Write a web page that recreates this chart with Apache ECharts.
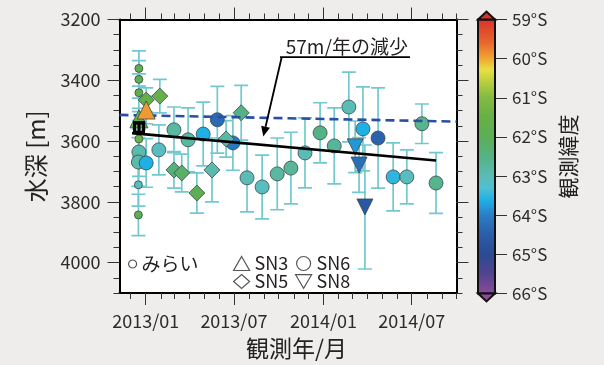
<!DOCTYPE html>
<html><head><meta charset="utf-8">
<script src="https://cdn.jsdelivr.net/npm/echarts@6/dist/echarts.min.js"></script>
<style>html,body{margin:0;padding:0;background:#eeedeb;}#c{width:604px;height:365px;}</style>
</head><body><div id="c"></div>
<script>
const FONT = '"Noto Sans CJK JP","Noto Sans",sans-serif';
// rows: [days since 2013-01-01, depth (m), error (±m), latitude (°S)]
const miraiPts = [
  [-14, 3361, 58, 61.9], [-14, 3397, 62, 61.9], [-14, 3441, 62, 61.8],
  [-14, 3593, 60, 61.4], [-15, 3744, 70, 63.1], [-15, 3843, 68, 62.0]
];
const sn3Pts = [[-14, 3527, 35, 61.8], [1, 3498, 45, 59.95]];
const sn5Pts = [
  [1, 3465, 40, 61.7], [29, 3452, 55, 61.6], [58, 3695, 60, 62.4], [74, 3705, 62, 62.2],
  [105, 3771, 66, 61.9], [136, 3695, 105, 62.9], [165, 3593, 60, 62.8], [196, 3507, 90, 62.5]
];
const sn6Pts = [
  [-14, 3636, 80, 62.9], [-15, 3669, 80, 62.9], [1, 3672, 80, 63.6], [27, 3629, 82, 63.1],
  [58, 3563, 75, 62.8], [87, 3596, 105, 62.8], [118, 3577, 105, 63.6], [147, 3530, 110, 64.3],
  [179, 3606, 90, 64.1], [208, 3721, 112, 63.0], [239, 3751, 105, 63.1], [270, 3708, 118, 62.8],
  [298, 3689, 118, 62.7], [327, 3639, 115, 63.0], [358, 3573, 99, 62.5], [387, 3616, 125, 62.7],
  [417, 3488, 115, 63.0], [446, 3560, 138, 63.6], [477, 3590, 165, 64.4], [508, 3718, 112, 63.5],
  [536, 3718, 89, 63.1], [567, 3543, 65, 62.6], [596, 3738, 100, 62.6]
];
const sn8Pts = [[430, 3619, 85, 63.8], [438, 3679, 90, 64.2], [450, 3817, 204, 64.6]];
const trendLine = [[-28, 3574], [596, 3664]];
const meanLine = [[-53.8, 3514], [638, 3536]];
const blackMark = [[-13.7, 3554]];
const xTickLabels = ['2013/01', '2013/07', '2014/01', '2014/07'];
const yTickLabels = [3200, 3400, 3600, 3800, 4000];
const latTicks = [59, 60, 61, 62, 63, 64, 65, 66];
const annoText = '57m/年の減少';
const annoUnderline = [[275.7, 3324], [542.5, 3324]];
const annoArrow = [[279.1, 3324], [241.4, 3585]];
const annoTextPos = [287.5, 3290];

const X_MIN = -53.8, X_MAX = 638, Y_MIN = 3200, Y_MAX = 4100;
const DAY = 86400000, T0 = Date.UTC(2013, 0, 1);
const toDay = s => { const [y, m] = s.split('/').map(Number); return (Date.UTC(y, m - 1, 1) - T0) / DAY; };
const majorX = xTickLabels.map(toDay);
const minorX = [];
for (let y = 2012; y <= 2014; y++) for (let m = 0; m < 12; m++) {
  const d = (Date.UTC(y, m, 1) - T0) / DAY; if (d >= X_MIN && d <= X_MAX + 0.5) minorX.push(Math.min(d, X_MAX));
}
const minorY = []; for (let v = Y_MIN; v <= Y_MAX; v += 50) minorY.push(v);

const colorStops = [
  [59.0, '#d7312b'], [59.6, '#e8652c'], [60.0, '#f1a332'], [60.3, '#e8df43'], [60.6, '#b9cf3e'],
  [61.0, '#84ba42'], [61.5, '#67b046'], [62.0, '#5cae55'], [62.5, '#55b285'], [63.0, '#5bbcb6'],
  [63.3, '#4fc0d2'], [63.6, '#1fb1e6'], [64.0, '#2b7cc6'], [64.5, '#2a5ca8'], [65.0, '#2b4a92'],
  [65.5, '#54448f'], [66.0, '#8e4a9c']
];
function hex2rgb(h) { return [1, 3, 5].map(i => parseInt(h.substr(i, 2), 16)); }
function latColor(lat) {
  if (lat <= colorStops[0][0]) return colorStops[0][1];
  for (let i = 1; i < colorStops.length; i++) {
    if (lat <= colorStops[i][0]) {
      const [a, ca] = colorStops[i - 1], [b, cb] = colorStops[i];
      const t = (lat - a) / (b - a), A = hex2rgb(ca), B = hex2rgb(cb);
      return 'rgb(' + A.map((v, k) => Math.round(v + (B[k] - v) * t)).join(',') + ')';
    }
  }
  return colorStops[colorStops.length - 1][1];
}

const ERR_COLOR = '#72c8cf';
function errRender(params, api) {
  const x = api.value(0), y = api.value(1), e = api.value(2);
  const t = api.coord([x, y - e]), b = api.coord([x, y + e]);
  const hw = 7, st = { stroke: ERR_COLOR, lineWidth: 1.7 };
  return { type: 'group', children: [
    { type: 'line', shape: { x1: t[0], y1: t[1], x2: b[0], y2: b[1] }, style: st },
    { type: 'line', shape: { x1: t[0] - hw, y1: t[1], x2: t[0] + hw, y2: t[1] }, style: st },
    { type: 'line', shape: { x1: b[0] - hw, y1: b[1], x2: b[0] + hw, y2: b[1] }, style: st }
  ] };
}
function markRender(params, api) {
  const c = api.coord([api.value(0), api.value(1)]);
  const x = c[0], y = c[1], f = { fill: '#000' };
  return { type: 'group', children: [
    { type: 'rect', shape: { x: x - 6, y: y - 6, width: 12, height: 3.5 }, style: f },
    { type: 'rect', shape: { x: x - 6, y: y + 3.5, width: 12, height: 3.5 }, style: f },
    { type: 'rect', shape: { x: x - 6, y: y - 6, width: 3, height: 13 }, style: f },
    { type: 'rect', shape: { x: x - 1.5, y: y - 6, width: 3, height: 13 }, style: f },
    { type: 'rect', shape: { x: x + 3, y: y - 6, width: 3, height: 13 }, style: f }
  ] };
}

const LBL = '#2b2b2b';
const tickStyle = { color: '#333', width: 1 };
const line2 = { show: true, onZero: false, lineStyle: { color: '#000', width: 2 } };
const noLine = { show: false, onZero: false };
function xAx(pos, major, withLabel, withLine) {
  return {
    type: 'value', gridIndex: 0, position: pos, min: X_MIN, max: X_MAX,
    axisLine: withLine ? line2 : noLine, splitLine: { show: false },
    axisTick: { show: true, inside: false, length: major ? 12 : 6, lineStyle: tickStyle, customValues: major ? majorX : minorX },
    axisLabel: withLabel ? {
      show: true, customValues: majorX, margin: 19, fontSize: 18, color: LBL, fontFamily: FONT,
      formatter: v => { const i = majorX.findIndex(d => Math.abs(d - v) < 0.5); return i >= 0 ? xTickLabels[i] : ''; }
    } : { show: false },
    name: withLabel ? '観測年/月' : '', nameLocation: 'middle', nameGap: 44,
    nameTextStyle: { fontSize: 23, color: '#222', fontFamily: FONT, padding: [0, 0, 0, 17] }
  };
}
function yAx(pos, major, withLabel, withLine) {
  return {
    type: 'value', gridIndex: 0, position: pos, min: Y_MIN, max: Y_MAX, inverse: true,
    axisLine: withLine ? line2 : noLine, splitLine: { show: false },
    axisTick: { show: true, inside: false, length: major ? 12 : 6, lineStyle: tickStyle, customValues: major ? yTickLabels : minorY },
    axisLabel: withLabel ? { show: true, customValues: yTickLabels, margin: 19, fontSize: 18, color: LBL, fontFamily: FONT,
      formatter: v => String(v) } : { show: false },
    name: withLabel ? '水深 [m]' : '', nameLocation: 'middle', nameGap: 72, nameRotate: 90,
    nameTextStyle: { fontSize: 24, color: '#222', fontFamily: FONT }
  };
}

const symBorder = { borderColor: '#3a4848', borderWidth: 0.8 };
const colorFn = p => latColor(p.value[3]);
function scatter(name, data, symbol, size, rotate, z) {
  return {
    type: 'scatter', name, data, xAxisIndex: 1, yAxisIndex: 1, symbol, symbolSize: size,
    symbolRotate: rotate || 0, z: z || 3, encode: { x: 0, y: 1 },
    itemStyle: Object.assign({ color: colorFn, opacity: 1 }, symBorder)
  };
}
const legIcon = { color: '#fff', borderColor: '#555', borderWidth: 1.2 };
const legText = { fontSize: 18, color: '#231f20', fontFamily: FONT, lineHeight: 17 };

const option = {
  animation: false,
  backgroundColor: '#eeedeb',
  textStyle: { fontFamily: FONT },
  grid: [
    { left: 119.5, top: 19.5, width: 337, height: 274, show: true, backgroundColor: '#fff', borderWidth: 0, containLabel: false },
    { left: 478, top: 19.5, width: 17, height: 274, show: false, containLabel: false }
  ],
  xAxis: [
    xAx('bottom', false, false, true), xAx('bottom', true, true, false),
    xAx('top', false, false, true), xAx('top', true, false, false),
    { type: 'value', gridIndex: 1, min: 0, max: 1, show: false }
  ],
  yAxis: [
    yAx('left', false, false, true), yAx('left', true, true, false),
    yAx('right', false, false, true), yAx('right', true, false, false),
    {
      type: 'value', gridIndex: 1, position: 'right', min: 59, max: 66, interval: 1, inverse: true,
      axisLine: { show: false, onZero: false }, splitLine: { show: false },
      axisTick: { show: true, inside: false, length: 12, lineStyle: { color: '#333', width: 1 } },
      axisLabel: { margin: 17, fontSize: 17, color: LBL, fontFamily: FONT, formatter: v => v + '°S' },
      name: '観測緯度', nameLocation: 'middle', nameGap: 63, nameRotate: 90,
      nameTextStyle: { fontSize: 21, color: '#222', fontFamily: FONT }
    }
  ],
  legend: [
    { left: 128, top: 254.5, padding: 0, orient: 'horizontal', selectedMode: false, itemWidth: 8, itemHeight: 8,
      textStyle: Object.assign({}, legText, { fontSize: 19 }),
      data: [{ name: 'みらい', icon: 'circle', itemStyle: legIcon }] },
    { left: 233, top: 254.5, padding: 0, orient: 'vertical', itemGap: 0, selectedMode: false, itemWidth: 16, itemHeight: 14,
      textStyle: legText,
      data: [{ name: 'SN3', icon: 'triangle', itemStyle: legIcon }, { name: 'SN5', icon: 'diamond', itemStyle: legIcon }] },
    { left: 295, top: 254.5, padding: 0, orient: 'vertical', itemGap: 0, selectedMode: false, itemWidth: 16, itemHeight: 14,
      textStyle: legText,
      data: [{ name: 'SN6', icon: 'circle', itemStyle: legIcon }, { name: 'SN8', icon: 'path://M0,0L20,0L10,17Z', itemStyle: legIcon }] }
  ],
  series: [
    { type: 'custom', name: 'err', xAxisIndex: 1, yAxisIndex: 1, renderItem: errRender, clip: true, z: 1,
      data: [].concat(miraiPts, sn3Pts, sn5Pts, sn6Pts, sn8Pts), encode: { x: 0, y: 1 } },
    scatter('みらい', miraiPts, 'circle', 8),
    scatter('SN6', sn6Pts, 'circle', 14),
    scatter('SN5', sn5Pts, 'diamond', 16),
    scatter('SN3', sn3Pts, 'triangle', 18, 0, 6),
    scatter('SN8', sn8Pts, 'triangle', 16, 180),
    { type: 'line', name: 'mean', data: meanLine, xAxisIndex: 1, yAxisIndex: 1, symbol: 'none', z: 5,
      lineStyle: { color: '#2b4ea2', width: 2.6, type: [9, 5] } },
    { type: 'line', name: 'trend', data: trendLine, xAxisIndex: 1, yAxisIndex: 1, symbol: 'none', z: 5,
      lineStyle: { color: '#000', width: 2.6 } },
    { type: 'custom', name: 'mark', xAxisIndex: 1, yAxisIndex: 1, renderItem: markRender, data: blackMark, z: 7, encode: { x: 0, y: 1 } }
  ]
};

const chart = echarts.init(document.getElementById('c'));
chart.setOption(option);

const P = (d) => chart.convertToPixel({ gridIndex: 0 }, d);
const yT = chart.convertToPixel({ yAxisIndex: 4 }, 59), yB = chart.convertToPixel({ yAxisIndex: 4 }, 66);
const xL = chart.convertToPixel({ xAxisIndex: 4 }, 0), xR = chart.convertToPixel({ xAxisIndex: 4 }, 1);
const gradStops = colorStops.map(([lat, c]) => ({ offset: (lat - 59) / 7, color: c }));
const u0 = P(annoUnderline[0]), u1 = P(annoUnderline[1]);
const a0 = P(annoArrow[0]), a1 = P(annoArrow[1]);
const tp = P(annoTextPos);
const dx = a1[0] - a0[0], dy = a1[1] - a0[1], L = Math.hypot(dx, dy), ux = dx / L, uy = dy / L;
const ah = 10, aw = 4.5;
const base = [a1[0] - ux * ah, a1[1] - uy * ah];
chart.setOption({
  graphic: [
    { type: 'rect', shape: { x: xL, y: yT, width: xR - xL, height: yB - yT }, z: 10,
      style: { fill: { type: 'linear', x: 0, y: 0, x2: 0, y2: 1, colorStops: gradStops }, stroke: '#111', lineWidth: 2 } },
    { type: 'polygon', z: 10, shape: { points: [[xL, yT], [xR, yT], [(xL + xR) / 2, yT - 8]] },
      style: { fill: colorStops[0][1], stroke: '#111', lineWidth: 2, lineJoin: 'miter' } },
    { type: 'polygon', z: 10, shape: { points: [[xL, yB], [xR, yB], [(xL + xR) / 2, yB + 8]] },
      style: { fill: colorStops[colorStops.length - 1][1], stroke: '#111', lineWidth: 2, lineJoin: 'miter' } },
    { type: 'line', z: 20, shape: { x1: u0[0], y1: u0[1], x2: u1[0], y2: u1[1] }, style: { stroke: '#000', lineWidth: 1.8 } },
    { type: 'line', z: 20, shape: { x1: a0[0], y1: a0[1], x2: base[0], y2: base[1] }, style: { stroke: '#000', lineWidth: 1.8 } },
    { type: 'polygon', z: 20, shape: { points: [a1, [base[0] - uy * aw, base[1] + ux * aw], [base[0] + uy * aw, base[1] - ux * aw]] },
      style: { fill: '#000' } },
    { type: 'text', z: 20, x: tp[0], y: tp[1], style: { text: annoText, fontSize: 19, fontFamily: FONT, fill: '#231f20', verticalAlign: 'middle' } }
  ]
});
</script>
</body></html>
